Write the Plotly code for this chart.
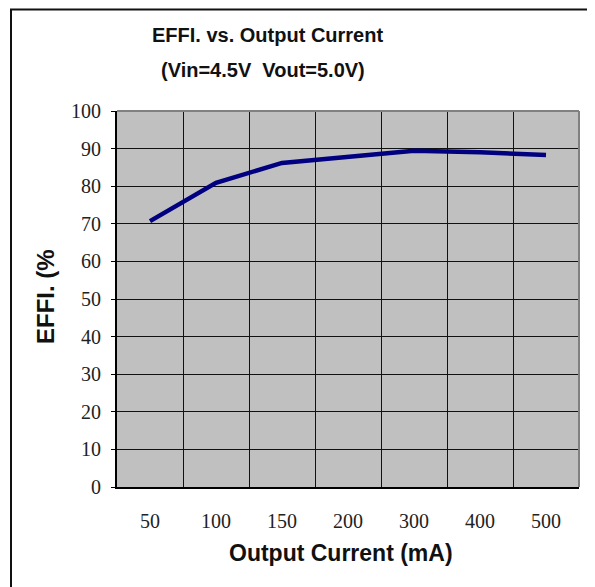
import plotly.graph_objects as go

categories = ["50", "100", "150", "200", "300", "400", "500"]
efficiency = [70.7, 80.9, 86.2, 87.8, 89.4, 89.0, 88.3]
y_ticks = [0, 10, 20, 30, 40, 50, 60, 70, 80, 90, 100]

title_line1 = "EFFI. vs. Output Current"
title_line2 = "(Vin=4.5V  Vout=5.0V)"
x_title = "Output Current (mA)"
y_title = "EFFI. (%"

OFF = 8  # page body margin
W, H = 595 - OFF, 587 - OFF
L, T = 117 - OFF, 111 - OFF
R = W - (579 - OFF)
B = H - (487 - OFF)
pw = W - L - R
ph = H - T - B

def px_x(p):
    return (p - OFF - L) / pw

def px_y(p):
    return (H - B - (p - OFF)) / ph

fig = go.Figure()
fig.add_trace(go.Scatter(
    x=categories, y=efficiency, mode="lines",
    line=dict(color="#000080", width=4.5),
    hoverinfo="skip", showlegend=False,
))

axis_font = dict(family="Liberation Serif", size=20, color="#222222")

fig.update_layout(
    width=W, height=H,
    margin=dict(l=L, r=R, t=T, b=B, pad=0),
    paper_bgcolor="white",
    plot_bgcolor="#c0c0c0",
    xaxis=dict(
        type="category", tickson="boundaries",
        range=[-0.5, 6.5],
        showgrid=True, gridcolor="#111111", gridwidth=1,
        showline=True, linecolor="#000000", linewidth=2,
        ticks="", tickfont=axis_font, ticklabelstandoff=15,
        zeroline=False, fixedrange=True,
    ),
    yaxis=dict(
        range=[0, 100], tickvals=y_ticks,
        showgrid=True, gridcolor="#111111", gridwidth=1,
        showline=True, linecolor="#000000", linewidth=2,
        ticks="outside", ticklen=4, tickcolor="#000000",
        tickfont=axis_font, ticklabelstandoff=6,
        zeroline=False, fixedrange=True,
    ),
    shapes=[
        dict(type="line", xref="paper", yref="paper", x0=0, x1=1, y0=1, y1=1,
             line=dict(color="#808080", width=2), layer="above"),
        dict(type="line", xref="paper", yref="paper", x0=1, x1=1, y0=0, y1=1,
             line=dict(color="#808080", width=2), layer="above"),
        dict(type="rect", xref="paper", yref="paper",
             x0=px_x(11), x1=px_x(700), y0=px_y(700), y1=px_y(9.5),
             line=dict(color="#111111", width=2), layer="above"),
    ],
    annotations=[
        dict(text="<b>" + title_line1 + "</b>", xref="paper", yref="paper",
             x=px_x(267), y=px_y(35), showarrow=False,
             font=dict(family="Liberation Sans", size=20, color="#111111"),
             xanchor="center", yanchor="middle"),
        dict(text="<b>" + title_line2 + "</b>", xref="paper", yref="paper",
             x=px_x(263), y=px_y(70), showarrow=False,
             font=dict(family="Liberation Sans", size=20, color="#111111"),
             xanchor="center", yanchor="middle"),
        dict(text="<b>" + x_title + "</b>", xref="paper", yref="paper",
             x=px_x(341), y=px_y(553), showarrow=False,
             font=dict(family="Liberation Sans", size=23, color="#111111"),
             xanchor="center", yanchor="middle"),
        dict(text="<b>" + y_title + "</b>", xref="paper", yref="paper",
             x=px_x(45), y=px_y(297), showarrow=False,
             font=dict(family="Liberation Sans", size=24, color="#111111"),
             textangle=-90, xanchor="center", yanchor="middle"),
    ],
)

fig.write_html("out.html")
